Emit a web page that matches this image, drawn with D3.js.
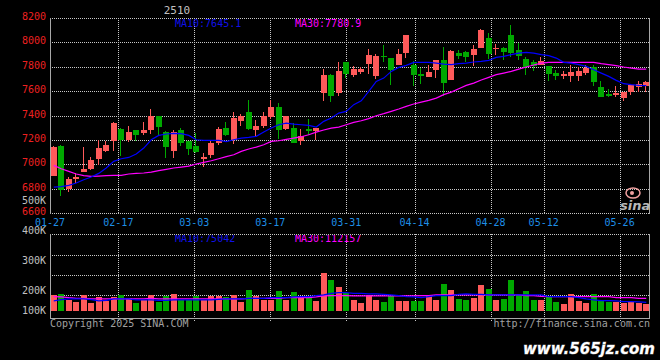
<!DOCTYPE html>
<html>
<head>
<meta charset="utf-8">
<script src="https://cdn.jsdelivr.net/npm/d3@7"></script>
<style>
  body { margin: 0; background: #000; }
  svg { display: block; }
  text { font-family: "DejaVu Sans Mono", monospace; }
</style>
</head>
<body>
<div id="chart"></div>
<script>
// trading days shown on the chart
const dates = [
  "01-27",
  "02-05","02-06","02-07",
  "02-10","02-11","02-12","02-13","02-14",
  "02-17","02-18","02-19","02-20","02-21",
  "02-24","02-25","02-26","02-27","02-28",
  "03-03","03-04","03-05","03-06","03-07",
  "03-10","03-11","03-12","03-13","03-14",
  "03-17","03-18","03-19","03-20","03-21",
  "03-24","03-25","03-26","03-27","03-28",
  "03-31","04-01","04-02","04-03",
  "04-07","04-08","04-09","04-10","04-11",
  "04-14","04-15","04-16","04-17","04-18",
  "04-21","04-22","04-23","04-24","04-25",
  "04-28","04-29","04-30",
  "05-06","05-07","05-08","05-09",
  "05-12","05-13","05-14","05-15","05-16",
  "05-19","05-20","05-21","05-22","05-23",
  "05-26","05-27","05-28","05-29","05-30"
];

const openP = [6905,7150,6795,6876,6939,6958,7045,7106,7188,7292,
  7196,7283,7256,7278,7398,7262,7111,7283,7188,7152,
  7045,7078,7174,7300,7199,7357,7428,7284,7316,7390,
  7472,7292,7300,7188,7289,7270,7582,7735,7582,7841,
  7732,7754,7825,7721,7891,7874,7817,7915,7817,7743,
  7718,7776,7858,7694,7915,7923,7899,7956,8038,7943,
  7951,8063,7940,7866,7836,7817,7803,7751,7727,7721,
  7721,7751,7800,7636,7579,7565,7543,7590,7633,7642];
const highP = [7150,7155,6892,6928,7144,7062,7199,7188,7345,7295,
  7316,7285,7349,7456,7400,7275,7283,7297,7190,7256,
  7095,7199,7303,7349,7430,7410,7530,7366,7430,7527,
  7505,7400,7338,7292,7374,7294,7781,7743,7840,7841,
  7809,7795,7945,7907,7981,7874,7945,8063,7844,7789,
  7817,7858,7962,7940,7940,7932,7981,8107,8079,7986,
  7964,8145,7997,7877,7858,7877,7803,7776,7767,7811,
  7795,7817,7817,7680,7620,7644,7590,7647,7686,7685];
const lowP = [6900,6742,6770,6846,6933,6950,6991,7100,7106,7070,
  7180,7188,7237,7248,7237,7051,7051,7147,7078,7090,
  6975,7051,7155,7229,7165,7311,7280,7235,7297,7371,
  7208,7283,7175,7162,7243,7202,7523,7508,7560,7710,
  7713,7743,7743,7696,7841,7647,7811,7871,7639,7661,
  7718,7707,7562,7694,7866,7836,7803,7956,7866,7893,
  7852,7880,7858,7730,7762,7817,7685,7688,7702,7672,
  7683,7735,7639,7549,7549,7554,7516,7571,7590,7592];
const closeP = [7145,6786,6880,6898,6963,7037,7136,7160,7341,7196,
  7267,7242,7283,7398,7303,7138,7262,7171,7122,7097,
  7059,7177,7292,7242,7382,7396,7289,7314,7398,7472,
  7283,7398,7177,7231,7272,7294,7735,7557,7768,7743,
  7784,7784,7899,7891,7877,7776,7904,8063,7735,7721,
  7759,7858,7666,7926,7891,7882,7942,8098,7907,7953,
  7918,7910,7885,7795,7809,7844,7743,7721,7737,7757,
  7762,7789,7672,7549,7557,7582,7590,7647,7661,7677];

const ma10 = [6813,6816,6827,6846,6873,6895,6925,6969,7024,7045,
  7056,7084,7133,7201,7237,7248,7253,7251,7237,7201,
  7196,7196,7196,7185,7201,7215,7220,7229,7264,7297,
  7324,7338,7330,7324,7319,7305,7352,7379,7420,7434,
  7489,7521,7598,7680,7707,7762,7795,7811,7836,7836,
  7836,7830,7822,7817,7825,7830,7839,7844,7852,7877,
  7885,7899,7912,7918,7912,7899,7891,7871,7836,7830,
  7817,7803,7776,7748,7721,7688,7661,7653,7647,7645];
const ma30 = [6991,6963,6942,6920,6906,6900,6903,6906,6909,6909,
  6920,6925,6928,6936,6947,6958,6969,6977,6985,7002,
  7015,7029,7045,7062,7078,7106,7125,7141,7160,7188,
  7193,7204,7215,7226,7242,7264,7281,7297,7305,7324,
  7344,7357,7374,7398,7415,7434,7453,7475,7494,7510,
  7524,7543,7571,7592,7620,7647,7666,7691,7713,7735,
  7748,7762,7781,7798,7814,7830,7836,7836,7836,7836,
  7836,7836,7836,7825,7817,7809,7798,7789,7781,7781];

// volume, thousands
const vol = [178,182,152,144,178,139,167,148,167,178,
  162,139,152,178,144,172,182,152,152,172,
  152,172,172,169,178,144,202,172,152,152,
  198,152,192,166,172,149,258,235,212,186,
  152,138,178,152,142,172,148,148,148,148,
  178,152,222,202,159,152,164,218,205,152,
  158,235,178,198,152,152,172,142,132,182,
  148,138,182,152,142,142,139,144,139,132];
const volMa10 = [148,154,158,158,158,154,148,151,158,158,
  158,153,153,153,151,151,153,153,153,153,
  153,153,156,158,158,158,161,161,161,164,
  164,164,168,169,169,174,178,186,189,189,
  186,186,183,183,181,178,174,169,168,164,
  169,174,174,174,181,183,181,181,178,178,
  178,178,178,178,178,178,169,169,169,169,
  164,158,153,149,149,148,144,144,143,141];
const volMa30 = [169,168,164,161,161,158,158,158,158,158,
  158,158,158,161,158,158,158,158,158,158,
  158,158,158,158,158,158,161,161,161,161,
  161,164,164,164,164,168,173,174,174,174,
  173,173,173,173,173,173,173,173,173,174,
  174,178,178,178,178,178,178,178,178,178,
  178,178,178,174,174,171,169,169,169,169,
  169,169,169,169,169,164,164,164,161,161];

const priceTicks = [8200, 8000, 7800, 7600, 7400, 7200, 7000, 6800, 6600];
const volTicks = [400, 300, 200, 100];
const dateTicks = ["01-27","02-17","03-03","03-17","03-31","04-14","04-28","05-12","05-26"];

const W = 660, H = 360;
const left = 50, right = 650;
const pTop = 18, pBot = 213;
const vTop = 234, vBot = 318;

const RED = "#ff5a5a", GREEN = "#00a800";
const GRID = "#c8c8c8", FRAME = "#a8a8a8";

const svg = d3.select("#chart").append("svg")
  .attr("width", W)
  .attr("height", H)
  .style("background", "#000");

// scales
const x = d3.scaleBand().domain(dates).range([left, right]).paddingInner(0.2).paddingOuter(0.1);
const xg = d3.scalePoint().domain(dates).range([left, right]);
const y = d3.scaleLinear().domain([6600, 8200]).range([pBot, pTop]);
// sina's volume axis is not evenly spaced
const yv = d3.scaleLinear().domain([100, 200, 300, 400]).range([310.5, 290.5, 260.5, 230.5]);

const cx = d => Math.round(x(d));
const bw = Math.round(x.bandwidth());

// ---- grid ----
const grid = svg.append("g")
  .attr("stroke", GRID)
  .attr("stroke-dasharray", "1,1")
  .attr("shape-rendering", "crispEdges");

grid.selectAll("line.ph")
  .data(priceTicks.slice(1, -1))
  .join("line")
  .attr("x1", left).attr("x2", right)
  .attr("y1", d => Math.round(y(d)) + 0.5)
  .attr("y2", d => Math.round(y(d)) + 0.5);

grid.selectAll("line.pv")
  .data(dateTicks.slice(1))
  .join("line")
  .attr("x1", d => Math.round(xg(d)) + 0.5)
  .attr("x2", d => Math.round(xg(d)) + 0.5)
  .attr("y1", pTop).attr("y2", pBot);

grid.selectAll("line.vh")
  .data(d3.range(vTop + 21, vBot - 20, 20))
  .join("line")
  .attr("x1", left).attr("x2", right)
  .attr("y1", d => d + 0.5).attr("y2", d => d + 0.5);

grid.selectAll("line.vv")
  .data(dateTicks.slice(1))
  .join("line")
  .attr("x1", d => Math.round(xg(d)) + 0.5)
  .attr("x2", d => Math.round(xg(d)) + 0.5)
  .attr("y1", vTop).attr("y2", vBot + 4);

// dotted top / bottom edges of the price box and top of volume box
grid.append("line").attr("x1", left).attr("x2", right).attr("y1", pTop + 0.5).attr("y2", pTop + 0.5);
grid.append("line").attr("x1", left).attr("x2", right).attr("y1", pBot + 0.5).attr("y2", pBot + 0.5);
grid.append("line").attr("x1", left).attr("x2", right).attr("y1", vTop + 0.5).attr("y2", vTop + 0.5);

// solid frame sides
const frame = svg.append("g").attr("stroke", FRAME).attr("shape-rendering", "crispEdges");
frame.append("line").attr("x1", left + 0.5).attr("x2", left + 0.5).attr("y1", pTop).attr("y2", pBot + 1);
frame.append("line").attr("x1", right - 0.5).attr("x2", right - 0.5).attr("y1", pTop).attr("y2", pBot + 1);
frame.append("line").attr("x1", left + 0.5).attr("x2", left + 0.5).attr("y1", vTop).attr("y2", vBot + 1);
frame.append("line").attr("x1", right - 0.5).attr("x2", right - 0.5).attr("y1", vTop).attr("y2", vBot + 1);
frame.append("line").attr("x1", left).attr("x2", right).attr("y1", vBot + 0.5).attr("y2", vBot + 0.5);

// ---- candles ----
const candles = dates.map((d, i) => ({
  d: d, o: openP[i], h: highP[i], l: lowP[i], c: closeP[i], v: vol[i]
}));
const colorOf = k => (k.c >= k.o ? RED : GREEN);

const cg = svg.append("g").attr("shape-rendering", "crispEdges");
cg.selectAll("rect.wick")
  .data(candles)
  .join("rect")
  .attr("x", k => cx(k.d) + 2)
  .attr("width", 1)
  .attr("y", k => Math.round(y(k.h)))
  .attr("height", k => Math.max(1, Math.round(y(k.l)) - Math.round(y(k.h))))
  .attr("fill", colorOf);

cg.selectAll("rect.body")
  .data(candles)
  .join("rect")
  .attr("x", k => cx(k.d))
  .attr("width", bw)
  .attr("y", k => Math.round(y(Math.max(k.o, k.c))))
  .attr("height", k => Math.max(1, Math.round(y(Math.min(k.o, k.c))) - Math.round(y(Math.max(k.o, k.c)))))
  .attr("fill", colorOf);

// ---- volume bars ----
const vg = svg.append("g").attr("shape-rendering", "crispEdges");
vg.selectAll("rect")
  .data(candles)
  .join("rect")
  .attr("x", k => cx(k.d))
  .attr("width", bw)
  .attr("y", k => Math.round(yv(k.v)))
  .attr("height", k => Math.round(yv(100)) - Math.round(yv(k.v)))
  .attr("fill", colorOf);

// ---- moving averages ----
const lineP = d3.line().x((v, i) => x(dates[i]) + bw / 2).y(v => y(v));
const lineV = d3.line().x((v, i) => x(dates[i]) + bw / 2).y(v => yv(v));

svg.append("path").attr("d", lineP(ma30)).attr("fill", "none").attr("stroke", "#ff00ff").attr("stroke-width", 1.2);
svg.append("path").attr("d", lineP(ma10)).attr("fill", "none").attr("stroke", "#0000ff").attr("stroke-width", 1.2);
svg.append("path").attr("d", lineV(volMa30)).attr("fill", "none").attr("stroke", "#ff00ff").attr("stroke-width", 1.2);
svg.append("path").attr("d", lineV(volMa10)).attr("fill", "none").attr("stroke", "#0000ff").attr("stroke-width", 1.2);

// ---- labels ----
svg.selectAll("text.py")
  .data(priceTicks)
  .join("text")
  .attr("x", 46)
  .attr("y", d => y(d) + 2)
  .attr("text-anchor", "end")
  .attr("font-size", 10)
  .attr("fill", "#ee2020")
  .text(d => d);

svg.append("text")
  .attr("x", 46).attr("y", 203.5)
  .attr("text-anchor", "end")
  .attr("font-size", 10)
  .attr("fill", "#c0c0c0")
  .text("500K");

svg.selectAll("text.vy")
  .data(volTicks)
  .join("text")
  .attr("x", 46)
  .attr("y", d => yv(d) + 3.6)
  .attr("text-anchor", "end")
  .attr("font-size", 10)
  .attr("fill", "#c0c0c0")
  .text(d => d + "K");

svg.selectAll("text.dx")
  .data(dateTicks)
  .join("text")
  .attr("x", d => xg(d))
  .attr("y", 225.5)
  .attr("text-anchor", "middle")
  .attr("font-size", 10)
  .attr("fill", "#1e8ee6")
  .text(d => d);

svg.append("text").attr("x", 177).attr("y", 14).attr("text-anchor", "middle")
  .attr("font-size", 11).attr("fill", "#c0c0c0").text("2510");

svg.append("text").attr("x", 175).attr("y", 26.5).attr("font-size", 10)
  .attr("fill", "#1010e8").text("MA10:7645.1");
svg.append("text").attr("x", 295).attr("y", 26.5).attr("font-size", 10)
  .attr("fill", "#ff00ff").text("MA30:7780.9");

svg.append("clipPath").attr("id", "vclip")
  .append("rect").attr("x", left).attr("y", vTop + 1).attr("width", right - left).attr("height", vBot - vTop);
const vt = svg.append("g").attr("clip-path", "url(#vclip)");
vt.append("text").attr("x", 175).attr("y", 242).attr("font-size", 10)
  .attr("fill", "#1010e8").text("MA10:75042");
vt.append("text").attr("x", 295).attr("y", 242).attr("font-size", 10)
  .attr("fill", "#ff00ff").text("MA30:112157");

svg.append("text").attr("x", 50).attr("y", 327).attr("font-size", 10)
  .attr("fill", "#a0a0a0").text("Copyright 2025 SINA.COM");
svg.append("text").attr("x", 650).attr("y", 327).attr("text-anchor", "end").attr("font-size", 10)
  .attr("fill", "#a0a0a0").text("http://finance.sina.com.cn");

// sina logo
svg.append("ellipse").attr("cx", 633).attr("cy", 193).attr("rx", 7).attr("ry", 5)
  .attr("fill", "none").attr("stroke", "#f0a0a0").attr("stroke-width", 1.5);
svg.append("circle").attr("cx", 632).attr("cy", 193).attr("r", 2).attr("fill", "#f0a0a0");
svg.append("text").attr("x", 620).attr("y", 210)
  .style("font-family", "'DejaVu Sans', sans-serif")
  .attr("font-size", 13).attr("font-weight", "bold").attr("font-style", "italic")
  .attr("fill", "#b8b8b8").text("sina");

// watermark
svg.append("text").attr("x", 655).attr("y", 354).attr("text-anchor", "end")
  .style("font-family", "'DejaVu Sans', sans-serif")
  .attr("font-size", 15).attr("font-weight", "bold").attr("font-style", "italic")
  .attr("fill", "#ffffff").attr("stroke", "#666").attr("stroke-width", 0.8)
  .attr("paint-order", "stroke")
  .text("www.565jz.com");
</script>
</body>
</html>
